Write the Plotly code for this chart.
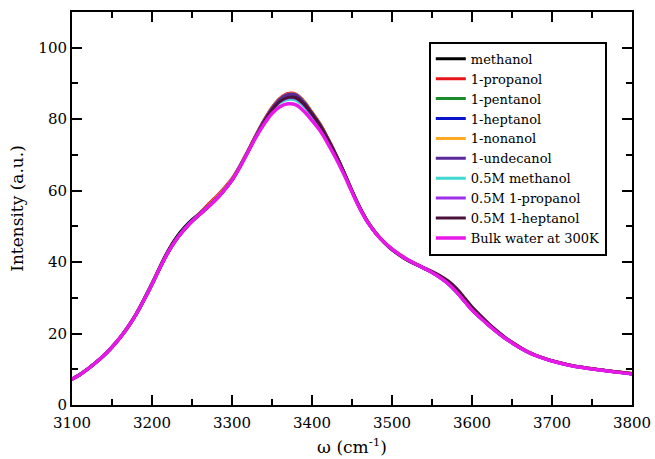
import plotly.graph_objects as go

omega = [3100, 3110, 3120, 3130, 3140, 3150, 3160, 3170, 3180, 3190,
         3200, 3210, 3220, 3230, 3240, 3250, 3260, 3270, 3280, 3290,
         3300, 3310, 3320, 3330, 3340, 3350, 3360, 3370, 3380, 3390,
         3400, 3410, 3420, 3430, 3440, 3450, 3460, 3470, 3480, 3490,
         3500, 3510, 3520, 3530, 3540, 3550, 3560, 3570, 3580, 3590,
         3600, 3610, 3620, 3630, 3640, 3650, 3660, 3670, 3680, 3690,
         3700, 3720, 3740, 3760, 3780, 3800]

methanol = [7.3, 8.6, 10.2, 12.0, 14.0, 16.3, 18.9, 22.0, 25.5, 29.7,
            34.1, 38.8, 43.2, 46.8, 49.6, 51.9, 53.7, 55.6, 57.6, 60.1,
            63.0, 66.8, 71.0, 75.3, 79.3, 82.6, 85.1, 86.3, 86.4, 84.6,
            81.6, 78.4, 74.3, 69.8, 64.9, 59.8, 55.0, 51.1, 48.0, 45.5,
            43.4, 41.8, 40.4, 39.3, 38.2, 37.2, 35.9, 34.3, 32.1, 29.5,
            26.8, 24.6, 22.6, 20.7, 19.0, 17.5, 16.1, 14.9, 13.9, 13.1,
            12.4, 11.3, 10.5, 9.9, 9.3, 8.8]
propanol1 = [7.2, 8.5, 10.1, 11.9, 13.9, 16.2, 18.8, 21.9, 25.4, 29.5,
             33.9, 38.5, 42.8, 46.3, 49.1, 51.6, 53.8, 56.1, 58.3, 60.7,
             63.4, 67.0, 71.2, 75.6, 79.7, 83.3, 85.9, 87.2, 87.0, 85.0,
             81.9, 78.7, 74.6, 70.1, 65.2, 60.0, 55.2, 51.2, 48.1, 45.7,
             43.7, 42.1, 40.7, 39.5, 38.4, 37.2, 35.8, 34.1, 31.9, 29.3,
             26.7, 24.6, 22.6, 20.7, 19.0, 17.5, 16.1, 14.9, 13.9, 13.1,
             12.4, 11.3, 10.5, 9.9, 9.3, 8.8]
pentanol1 = [7.2, 8.5, 10.1, 11.9, 13.9, 16.2, 18.8, 21.8, 25.3, 29.4,
             33.8, 38.4, 42.7, 46.3, 49.2, 51.6, 53.6, 55.6, 57.8, 60.3,
             63.2, 66.9, 71.1, 75.4, 79.5, 83.0, 85.6, 86.8, 86.7, 84.8,
             81.8, 78.6, 74.5, 70.0, 65.1, 59.9, 55.1, 51.1, 48.0, 45.6,
             43.6, 42.0, 40.6, 39.4, 38.3, 37.1, 35.7, 34.0, 31.8, 29.2,
             26.6, 24.5, 22.5, 20.6, 18.9, 17.4, 16.0, 14.8, 13.8, 13.0,
             12.3, 11.2, 10.4, 9.8, 9.2, 8.7]
heptanol1 = [7.2, 8.5, 10.1, 11.9, 13.9, 16.2, 18.8, 21.8, 25.3, 29.4,
             33.8, 38.4, 42.7, 46.3, 49.2, 51.6, 53.6, 55.6, 57.7, 60.2,
             63.1, 66.8, 71.0, 75.3, 79.4, 82.9, 85.5, 86.7, 86.6, 84.7,
             81.7, 78.5, 74.4, 69.9, 65.0, 59.8, 55.0, 51.0, 48.0, 45.6,
             43.6, 42.0, 40.6, 39.4, 38.3, 37.1, 35.7, 34.0, 31.8, 29.2,
             26.6, 24.5, 22.5, 20.6, 18.9, 17.4, 16.0, 14.8, 13.8, 13.0,
             12.3, 11.2, 10.4, 9.8, 9.2, 8.7]
nonanol1 = [7.2, 8.5, 10.1, 11.9, 13.9, 16.2, 18.8, 21.8, 25.3, 29.4,
            33.8, 38.4, 42.7, 46.2, 49.1, 51.5, 53.6, 55.7, 57.9, 60.4,
            63.3, 67.0, 71.2, 75.6, 79.7, 83.2, 85.8, 87.0, 86.9, 85.0,
            82.0, 78.8, 74.6, 70.1, 65.2, 60.0, 55.1, 51.1, 48.1, 45.7,
            43.7, 42.1, 40.7, 39.5, 38.4, 37.2, 35.8, 34.1, 31.9, 29.3,
            26.7, 24.6, 22.6, 20.7, 19.0, 17.5, 16.1, 14.9, 13.9, 13.1,
            12.4, 11.3, 10.5, 9.9, 9.3, 8.8]
undecanol1 = [7.2, 8.5, 10.1, 11.9, 13.9, 16.2, 18.8, 21.8, 25.3, 29.4,
              33.8, 38.4, 42.7, 46.3, 49.2, 51.6, 53.6, 55.6, 57.7, 60.2,
              63.1, 66.9, 71.1, 75.5, 79.6, 83.1, 85.7, 86.9, 86.8, 84.8,
              81.8, 78.6, 74.5, 70.0, 65.1, 59.9, 55.1, 51.1, 48.0, 45.6,
              43.6, 42.0, 40.6, 39.4, 38.3, 37.1, 35.7, 34.0, 31.8, 29.2,
              26.6, 24.5, 22.5, 20.6, 18.9, 17.4, 16.0, 14.8, 13.8, 13.0,
              12.3, 11.2, 10.4, 9.8, 9.2, 8.7]
methanol_05M = [7.2, 8.5, 10.1, 11.9, 13.9, 16.2, 18.8, 21.8, 25.3, 29.4,
                33.8, 38.4, 42.7, 46.2, 49.0, 51.4, 53.4, 55.4, 57.5, 60.0,
                62.9, 66.7, 70.9, 75.2, 79.1, 82.4, 84.6, 85.5, 85.3, 83.6,
                80.9, 77.9, 74.0, 69.7, 65.0, 59.9, 55.1, 51.1, 48.0, 45.6,
                43.6, 42.0, 40.6, 39.4, 38.3, 37.1, 35.7, 34.0, 31.8, 29.2,
                26.6, 24.5, 22.5, 20.6, 18.9, 17.4, 16.0, 14.8, 13.8, 13.0,
                12.3, 11.2, 10.4, 9.8, 9.2, 8.7]
propanol1_05M = [7.2, 8.5, 10.1, 11.9, 13.9, 16.2, 18.8, 21.8, 25.3, 29.4,
                 33.8, 38.4, 42.7, 46.2, 49.0, 51.4, 53.4, 55.4, 57.5, 60.0,
                 62.9, 66.7, 70.9, 75.2, 79.2, 82.6, 85.0, 86.0, 85.8, 84.0,
                 81.2, 78.2, 74.2, 69.8, 65.0, 59.8, 55.0, 51.0, 48.0, 45.6,
                 43.6, 42.0, 40.6, 39.4, 38.3, 37.1, 35.7, 34.0, 31.8, 29.2,
                 26.6, 24.5, 22.5, 20.6, 18.9, 17.4, 16.0, 14.8, 13.8, 13.0,
                 12.3, 11.2, 10.4, 9.8, 9.2, 8.7]
heptanol1_05M = [7.2, 8.5, 10.1, 11.9, 13.9, 16.2, 18.8, 21.8, 25.3, 29.4,
                 33.8, 38.4, 42.7, 46.2, 49.0, 51.4, 53.4, 55.4, 57.5, 60.0,
                 62.9, 66.7, 70.9, 75.2, 79.2, 82.6, 85.0, 86.1, 86.0, 84.2,
                 81.4, 78.3, 74.3, 69.9, 65.1, 60.0, 55.2, 51.2, 48.1, 45.6,
                 43.5, 41.9, 40.5, 39.4, 38.4, 37.4, 36.2, 34.8, 32.8, 30.2,
                 27.5, 25.2, 23.0, 21.0, 19.2, 17.6, 16.2, 14.9, 13.9, 13.1,
                 12.4, 11.3, 10.5, 9.9, 9.3, 8.8]
bulk_water = [7.2, 8.5, 10.1, 11.9, 13.9, 16.2, 18.8, 21.8, 25.3, 29.4,
              33.8, 38.4, 42.7, 46.2, 49.0, 51.4, 53.4, 55.4, 57.5, 60.0,
              62.9, 66.6, 70.8, 75.0, 78.6, 81.6, 83.5, 84.3, 84.0, 82.2,
              79.6, 76.8, 73.1, 69.0, 64.5, 59.6, 54.9, 51.0, 48.0, 45.6,
              43.6, 42.0, 40.6, 39.4, 38.3, 37.1, 35.7, 34.0, 31.8, 29.2,
              26.6, 24.5, 22.5, 20.6, 18.9, 17.4, 16.0, 14.8, 13.8, 13.0,
              12.3, 11.2, 10.4, 9.8, 9.2, 8.7]

names = ["methanol", "1-propanol", "1-pentanol", "1-heptanol", "1-nonanol",
         "1-undecanol", "0.5M methanol", "0.5M 1-propanol", "0.5M 1-heptanol",
         "Bulk water at 300K"]
series = [methanol, propanol1, pentanol1, heptanol1, nonanol1, undecanol1,
          methanol_05M, propanol1_05M, heptanol1_05M, bulk_water]
colors = ["#000000", "#e8141c", "#1b8a2a", "#0a14c8", "#ffaa22", "#5a2a9a",
          "#40d8d0", "#a030e8", "#4a1238", "#e818e8"]

x_ticks = [3100, 3200, 3300, 3400, 3500, 3600, 3700, 3800]
y_ticks = [0, 20, 40, 60, 80, 100]

fig = go.Figure()
for name, ys, col in zip(names, series, colors):
    fig.add_trace(go.Scatter(
        x=omega, y=ys, name=name, mode="lines",
        line=dict(color=col, width=3.5 if name.startswith("Bulk") else 3, shape="spline"),
    ))

serif = "DejaVu Serif"
axis_common = dict(
    showline=True, linecolor="black", linewidth=2, mirror="ticks",
    ticks="inside", ticklen=10, tickwidth=2, tickcolor="black",
    showgrid=False, zeroline=False, automargin=False,
    tickfont=dict(family=serif, size=15, color="black"),
)
fig.update_xaxes(
    range=[3100, 3800], tickvals=x_ticks, ticktext=[str(v) for v in x_ticks],
    minor=dict(ticks="inside", ticklen=6, tickwidth=2, tickcolor="black", dtick=50, tick0=3100),
    title=dict(text="ω (cm<sup>-1</sup>)", font=dict(family=serif, size=17, color="black"), standoff=10),
    ticklabelstandoff=3, ticklabeloverflow="allow",
    **axis_common,
)
fig.update_yaxes(
    range=[0, 110], tickvals=y_ticks, ticktext=[str(v) for v in y_ticks],
    minor=dict(ticks="inside", ticklen=6, tickwidth=2, tickcolor="black", dtick=10, tick0=0),
    title=dict(text="Intensity (a.u.)", font=dict(family=serif, size=17, color="black"), standoff=10),
    **axis_common,
)
fig.update_layout(
    width=655, height=459,
    margin=dict(l=72, r=23, t=12, b=54),
    paper_bgcolor="white", plot_bgcolor="white",
    showlegend=True,
    legend=dict(
        x=0.955, xanchor="right", y=0.924, yanchor="top",
        bgcolor="white", bordercolor="black", borderwidth=2,
        font=dict(family=serif, size=13, color="black"),
        tracegroupgap=0, itemwidth=30,
    ),
)
fig.write_html(
    "out.html",
    config={"displayModeBar": False},
    post_script="document.body.style.margin='0';document.body.style.overflow='hidden';",
)
